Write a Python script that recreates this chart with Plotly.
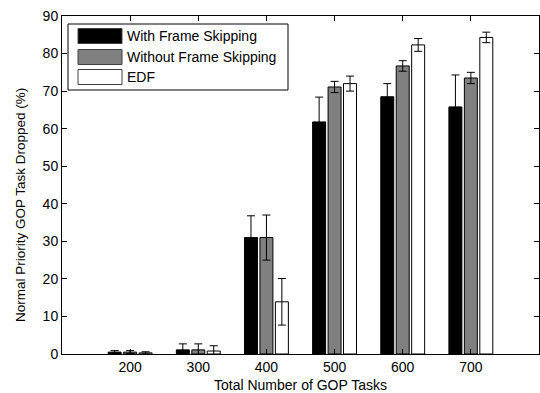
import plotly.graph_objects as go

tasks = [200, 300, 400, 500, 600, 700]
with_skip = [0.5, 1.1, 31.0, 61.8, 68.5, 65.8]
with_skip_err = [0.4, 1.6, 5.8, 6.6, 3.5, 8.5]
without_skip = [0.5, 1.1, 31.0, 71.1, 76.7, 73.5]
without_skip_err = [0.4, 1.6, 6.0, 1.5, 1.4, 1.5]
edf = [0.3, 0.8, 13.9, 72.0, 82.3, 84.3]
edf_err = [0.3, 1.4, 6.2, 2.0, 1.7, 1.4]

series = [
    ("With Frame Skipping", with_skip, with_skip_err, "#000000"),
    ("Without Frame Skipping", without_skip, without_skip_err, "#808080"),
    ("EDF", edf, edf_err, "#ffffff"),
]

W, H = 540, 393
L, R, T, B = 62, 1, 16, 39
pw, ph = W - L - R, H - T - B

def px(x):
    return (x - L) / pw

def py(y):
    return (H - B - y) / ph

font = "Liberation Sans, Arial, sans-serif"
fig = go.Figure()
for name, vals, errs, col in series:
    fig.add_trace(go.Bar(
        x=tasks, y=vals, name=name, showlegend=False,
        marker=dict(color=col, line=dict(color="#000000", width=1)),
        error_y=dict(type="data", array=errs, visible=True,
                     color="#000000", thickness=1, width=4),
    ))

# manual legend (MATLAB style)
shapes = [dict(type="rect", xref="paper", yref="paper",
               x0=px(68), x1=px(288), y0=py(90), y1=py(24),
               line=dict(color="#000000", width=1), fillcolor="white", layer="above")]
annotations = []
row_centers = [36, 57, 77]
for (name, _, _, col), yc in zip(series, row_centers):
    shapes.append(dict(type="rect", xref="paper", yref="paper",
                       x0=px(78), x1=px(122), y0=py(yc + 7.5), y1=py(yc - 7.5),
                       line=dict(color="#404040", width=1), fillcolor=col, layer="above"))
    annotations.append(dict(xref="paper", yref="paper", x=px(125), y=py(yc),
                            xanchor="left", yanchor="middle", text=name,
                            showarrow=False, font=dict(size=14, color="#000000")))

# y-axis title (MATLAB places it slightly low)
annotations.append(dict(xref="paper", yref="paper", x=px(20), y=py(205),
                        xanchor="center", yanchor="middle", textangle=-90,
                        text="Normal Priority GOP Task Dropped (%)", showarrow=False,
                        font=dict(size=13.5, color="#000000")))

fig.update_layout(
    width=W, height=H,
    margin=dict(l=L, r=R, t=T, b=B),
    paper_bgcolor="white", plot_bgcolor="white",
    barmode="group", bargap=0.32, bargroupgap=0.16,
    font=dict(family=font, size=14, color="#000000"),
    showlegend=False,
    shapes=shapes, annotations=annotations,
    xaxis=dict(range=[100, 800], tickvals=tasks, ticktext=[str(t) for t in tasks],
               showline=True, linecolor="#000000", linewidth=1, mirror="ticks",
               ticks="inside", ticklen=5, tickcolor="#000000", showgrid=False,
               zeroline=False, tickfont=dict(size=14),
               title=dict(text="Total Number of GOP Tasks", standoff=7,
                          font=dict(size=14))),
    yaxis=dict(range=[0, 90], dtick=10,
               showline=True, linecolor="#000000", linewidth=1, mirror="ticks",
               ticks="inside", ticklen=5, tickcolor="#000000", showgrid=False,
               zeroline=False, tickfont=dict(size=14)),
)

fig.write_html("out.html")
